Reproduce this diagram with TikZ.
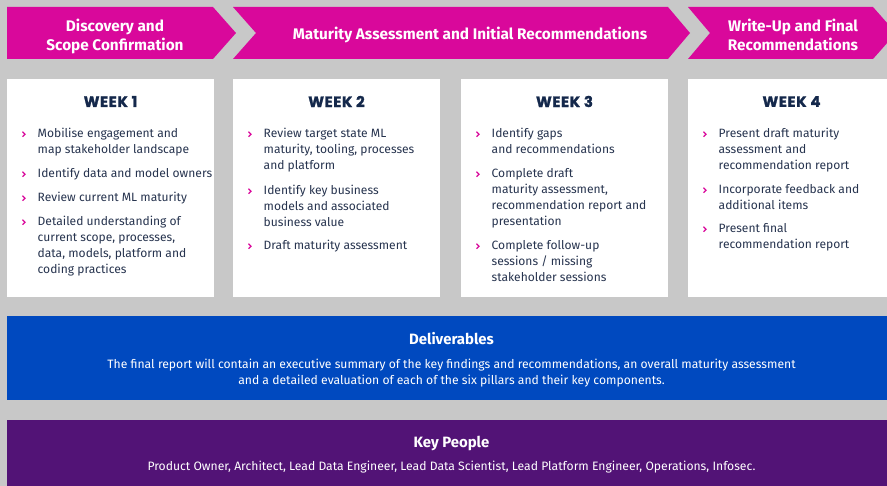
\documentclass[tikz,border=0pt]{standalone}
\usepackage{fontspec}
\setmainfont{Fira Sans}
\newfontfamily\headfont[BoldFont={Poppins Bold},BoldFeatures={FakeBold=1.5}]{Poppins}
\definecolor{bggrey}{HTML}{C8C8C8}
\definecolor{phasepink}{HTML}{D9089B}
\definecolor{navy}{HTML}{14284B}
\definecolor{bodytext}{HTML}{27344F}
\definecolor{delblue}{HTML}{0049BF}
\definecolor{peoplepurple}{HTML}{521376}
\tikzset{
  phase/.style={fill=phasepink},
  weekbox/.style={fill=white},
  phasetext/.style={text=white,font=\fontsize{15.4}{19}\selectfont\bfseries,align=center,inner sep=0},
  weektitle/.style={text=navy,font=\headfont\fontsize{15}{16}\selectfont\bfseries\addfontfeature{LetterSpace=4},inner sep=0},
  itemtext/.style={text=bodytext,font=\fontsize{12.1}{16}\selectfont,align=left,anchor=north west,inner sep=0},
  tick/.style={draw=phasepink,line width=1.2bp},
  bandtitle/.style={text=white,font=\fontsize{15}{16}\selectfont\bfseries,inner sep=0},
  bandtext/.style={text=white,font=\fontsize{12.2}{16}\selectfont,align=center,inner sep=0},
}
\newcommand\wkitem[4]{%
  \node[itemtext] (#1) at (#2+30.5,#3-5.2) {\rule{0pt}{10bp}#4};
  \draw[tick] (#2+15.5,#3-1.3)--(#2+18,#3+1.2)--(#2+15.5,#3+3.7);}
\begin{document}
\begin{tikzpicture}[x=1bp,y=-1bp]
\useasboundingbox (0,0) rectangle (887,486);
\clip (0,0) rectangle (887,486);
\fill[bggrey] (0,0) rectangle (887,486);
\pgfmathsetmacro{\ptop}{7}
\pgfmathsetmacro{\pbot}{59}
\pgfmathsetmacro{\pmid}{33}
\fill[phase] (7,\ptop)--(213,\ptop)--(236,\pmid)--(213,\pbot)--(7,\pbot)--cycle;
\fill[phase] (233,\ptop)--(668,\ptop)--(690,\pmid)--(668,\pbot)--(233,\pbot)--(256,\pmid)--cycle;
\fill[phase] (688,\ptop)--(873,\ptop)--(896,\pmid)--(873,\pbot)--(688,\pbot)--(710,\pmid)--cycle;
\node[phasetext] (discovery) at (115,36.5) {Discovery and\\Scope Confirmation};
\node[phasetext] (maturity) at (470,34.5) {Maturity Assessment and Initial Recommendations};
\node[phasetext] (writeup) at (793,34.5) {Write-Up and Final\\Recommendations};
\foreach \wk/\xl in {1/7,2/233,3/461,4/688}{
  \fill[weekbox] (\xl,79) rectangle ++(207,218);
  \node[weektitle] (week\wk) at (\xl+103.5,101.5) {WEEK \wk};
}
\wkitem{wa1}{7}{133}{Mobilise engagement and\\map stakeholder landscape}
\wkitem{wa2}{7}{173}{Identify data and model owners}
\wkitem{wa3}{7}{197}{Review current ML maturity}
\wkitem{wa4}{7}{221}{Detailed understanding of\\current scope, processes,\\data, models, platform and\\coding practices}
\wkitem{wb1}{233}{133}{Review target state ML\\maturity, tooling, processes\\and platform}
\wkitem{wb2}{233}{190}{Identify key business\\models and associated\\business value}
\wkitem{wb3}{233}{245}{Draft maturity assessment}
\wkitem{wc1}{461}{133}{Identify gaps\\and recommendations}
\wkitem{wc2}{461}{173}{Complete draft\\maturity assessment,\\recommendation report and\\presentation}
\wkitem{wc3}{461}{245}{Complete follow-up\\sessions / missing\\stakeholder sessions}
\wkitem{wd1}{688}{133}{Present draft maturity\\assessment and\\recommendation report}
\wkitem{wd2}{688}{189}{Incorporate feedback and\\additional items}
\wkitem{wd3}{688}{228}{Present final\\recommendation report}
\fill[delblue] (7,316) rectangle (896,400);
\node[bandtitle] (deltitle) at (451.5,339) {Deliverables};
\node[bandtext] (deltext) at (451.5,373) {The final report will contain an executive summary of the key findings and recommendations, an overall maturity assessment\\and a detailed evaluation of each of the six pillars and their key components.};
\fill[peoplepurple] (7,420) rectangle (896,490);
\node[bandtitle] (peopletitle) at (451.5,443) {Key People};
\node[bandtext] (peopletext) at (451.5,467) {Product Owner, Architect, Lead Data Engineer, Lead Data Scientist, Lead Platform Engineer, Operations, Infosec.};
\end{tikzpicture}
\end{document}
